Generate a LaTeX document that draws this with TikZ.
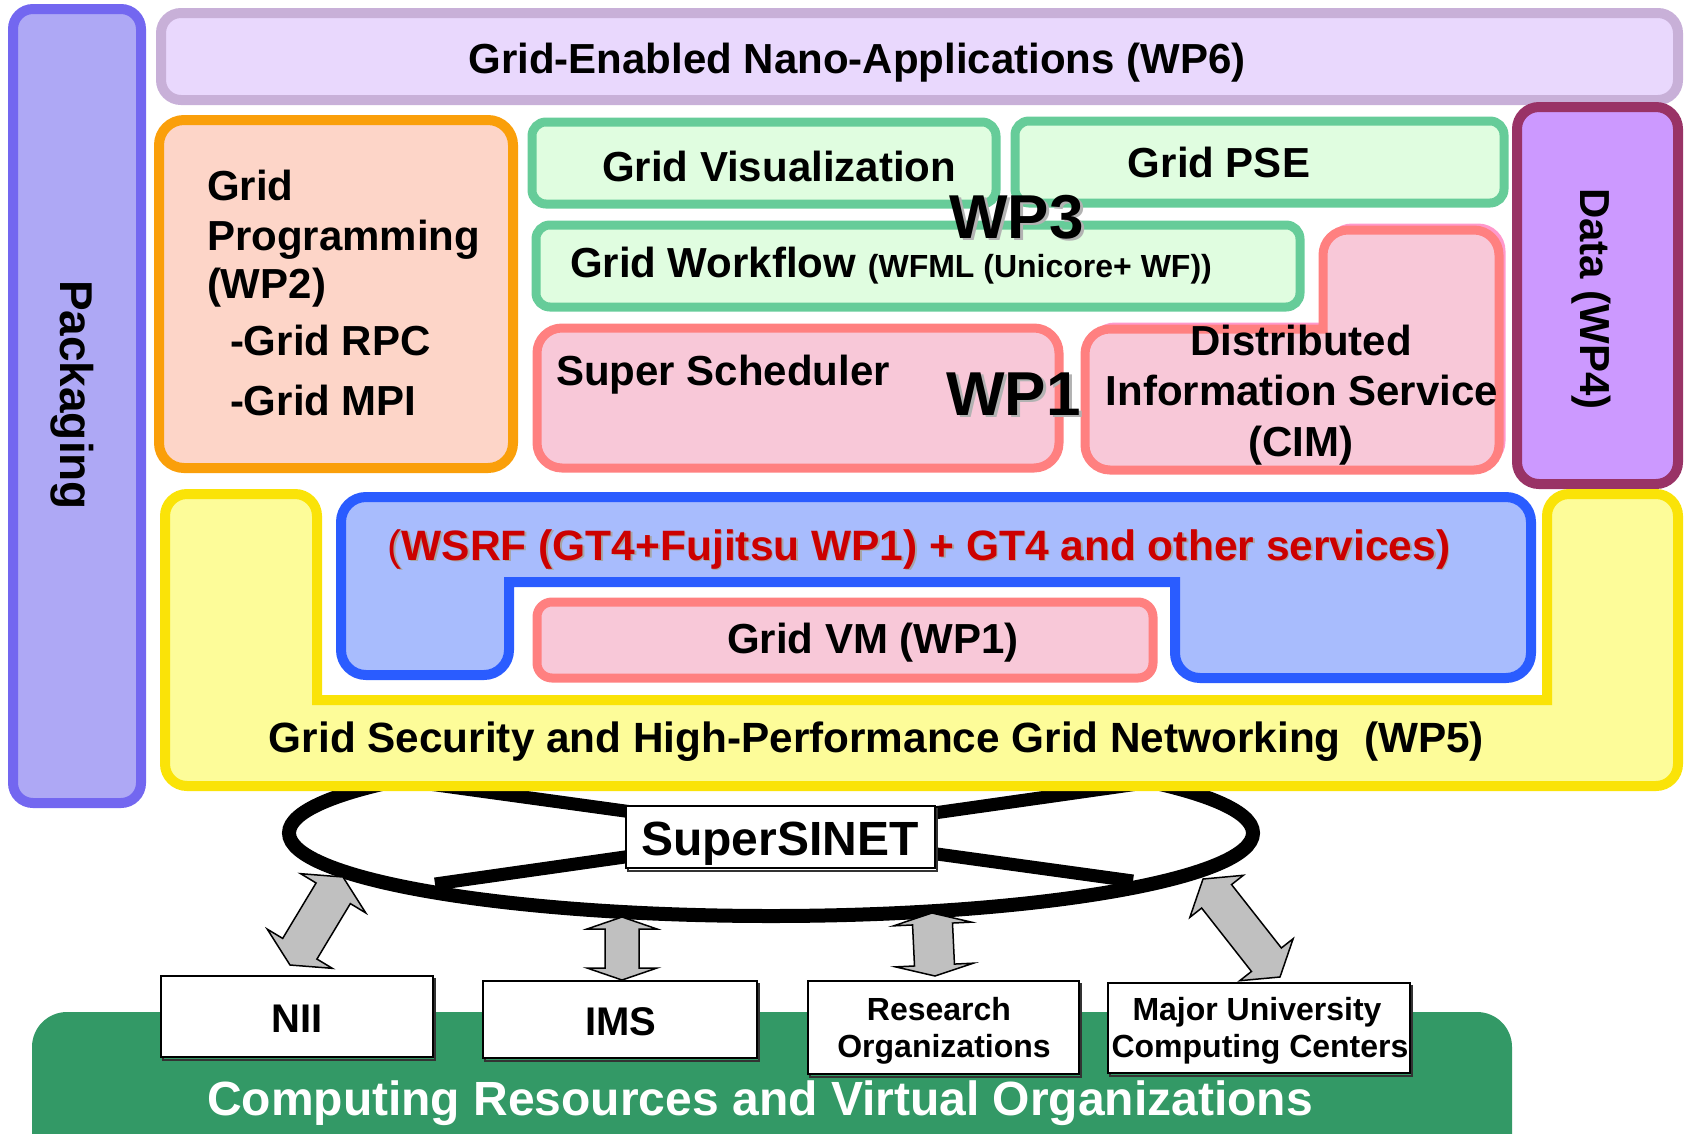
\documentclass[tikz,border=0pt]{standalone}
\usepackage{fontspec}
\setmainfont{Liberation Sans}
\usetikzlibrary{calc}
\definecolor{pkgB}{HTML}{7367F0}
\definecolor{pkgF}{HTML}{AEA8F5}
\definecolor{appB}{HTML}{C8B0D8}
\definecolor{appF}{HTML}{E9D8FD}
\definecolor{orgB}{HTML}{FA9F0A}
\definecolor{orgF}{HTML}{FDD5C8}
\definecolor{grnB}{HTML}{66CC99}
\definecolor{grnF}{HTML}{E0FDE0}
\definecolor{pnkB}{HTML}{FF8080}
\definecolor{pnkC}{HTML}{FF99CC}
\definecolor{pnkF}{HTML}{F8C8D8}
\definecolor{datB}{HTML}{993366}
\definecolor{datF}{HTML}{CC99FF}
\definecolor{ylwB}{HTML}{FAE308}
\definecolor{ylwF}{HTML}{FDFC99}
\definecolor{bluB}{HTML}{2A5CFF}
\definecolor{bluF}{HTML}{A8BCFD}
\definecolor{redT}{HTML}{CC0000}
\definecolor{resG}{HTML}{339966}
\definecolor{arrG}{HTML}{C0C0C0}
\newcommand\fsz[1]{\fontsize{#1}{#1}\selectfont\bfseries}
\newcommand\gridarrow[5]{%
  \draw[barrow] (#1)
   -- ($(#1)!#3!(#2)!#4!90:(#2)$)
   -- ($(#1)!#3!(#2)!#5!90:(#2)$)
   -- ($(#2)!#3!(#1)!#5!-90:(#1)$)
   -- ($(#2)!#3!(#1)!#4!-90:(#1)$)
   -- (#2)
   -- ($(#2)!#3!(#1)!#4!90:(#1)$)
   -- ($(#2)!#3!(#1)!#5!90:(#1)$)
   -- ($(#1)!#3!(#2)!#5!-90:(#2)$)
   -- ($(#1)!#3!(#2)!#4!-90:(#2)$)
   -- cycle;}
\begin{document}
\begin{tikzpicture}[x=1pt,y=-1pt,
  lbl/.style={inner sep=0pt, outer sep=0pt},
  panel/.style={line width=10, rounded corners=20},
  gbox/.style={line width=9, rounded corners=14, draw=grnB, fill=grnF},
  pbox/.style={line width=9, rounded corners=25, draw=pnkB, fill=pnkF},
  barrow/.style={fill=arrG, draw=black, line width=1.5, line join=miter},
  wbox/.style={draw=black, line width=2, fill=white, inner sep=0pt,
    preaction={draw=black!80, line width=2, transform canvas={shift={(1.5,2.5)}}}},
  net/.style={line width=13, draw=black}]
\useasboundingbox (0,0) rectangle (1684,1133);

% Packaging
\draw[panel, draw=pkgB, fill=pkgF] (13,9) rectangle (141,803);
\node[lbl, rotate=-90, anchor=base west] (pkgt) at (60,280) {\fsz{46}Packaging};

% WP6
\draw[panel, draw=appB, fill=appF] (161,13) rectangle (1678,100);
\node[lbl, anchor=base] (wp6t) at (857,73) {\fsz{42}Grid-Enabled Nano-Applications (WP6)};

% Grid Programming
\draw[panel, draw=orgB, fill=orgF, rounded corners=25] (159,120) rectangle (513,468);
\node[lbl, anchor=base west] (gp1) at (207,200) {\fsz{42}Grid};
\node[lbl, anchor=base west] (gp2) at (207,250) {\fsz{42}Programming};
\node[lbl, anchor=base west] (gp3) at (207,298) {\fsz{42}(WP2)};
\node[lbl, anchor=base west] (gp4) at (230,355) {\fsz{42}-Grid RPC};
\node[lbl, anchor=base west] (gp5) at (230,415) {\fsz{42}-Grid MPI};

% WP3 boxes
\draw[gbox] (532,122) rectangle (996,204);
\node[lbl, anchor=base] (visT) at (779,181) {\fsz{42}Grid Visualization};
\draw[gbox] (1015,121) rectangle (1504,203);
\node[lbl, anchor=base] (pseT) at (1219,177) {\fsz{42}Grid PSE};
\draw[gbox] (536,225) rectangle (1300,307);
\node[lbl, anchor=base west] (wfT) at (570,277) {\fsz{42}Grid Workflow \fsz{32}(WFML (Unicore+ WF))};

% WP1 boxes
\draw[pbox] (537,328) rectangle (1059,468);
\node[lbl, anchor=base west] (ssT) at (556,385) {\fsz{42}Super Scheduler};
\draw[pbox, draw=pnkC, line width=5] (1205,325) -- (1090,325) -- (1090,466) -- (1503,466) -- (1503,226) -- (1327,226) [sharp corners] -- (1327,325) -- cycle;
\draw[pbox] (1200,329) -- (1085,329) -- (1085,470) -- (1499,470) -- (1499,230) -- (1323,230) [sharp corners] -- (1323,329) -- cycle;
\node[lbl, anchor=base] (dis1) at (1301,355) {\fsz{42}Distributed};
\node[lbl, anchor=base] (dis2) at (1302,405) {\fsz{42}Information Service};
\node[lbl, anchor=base] (dis3) at (1301,456) {\fsz{42}(CIM)};

% Data
\draw[panel, draw=datB, fill=datF, rounded corners=22] (1517,107) rectangle (1678,484);
\node[lbl, rotate=-90, anchor=base west] (datT) at (1580,188) {\fsz{42}Data (WP4)};

% SuperSINET ring (behind the WP5 panel)
\coordinate (l1a) at (435,884);
\coordinate (l1b) at (1180,778);
\coordinate (l2a) at (400,780);
\coordinate (l2b) at (1133,881);
\draw[line width=14] (771,833) ellipse [x radius=482, y radius=83];
\draw[net] (l1a) -- (l1b);
\draw[net] (l2a) -- (l2b);

% WP5 yellow U
\draw[line width=10, draw=ylwB, fill=ylwF] (900,700) -- (317,700) [rounded corners=22] -- (317,494) -- (165,494) -- (165,786) -- (1678,786) -- (1678,494) -- (1547,494) [sharp corners] -- (1547,700) -- cycle;
\node[lbl, anchor=base] (wp5T) at (876.5,752) {\fsz{42.3}Grid Security and High-Performance Grid Networking\ \ (WP5)};

% WSRF blue
\draw[line width=10, draw=bluB, fill=bluF] (800,582) -- (509,582) [rounded corners=25] -- (509,675) -- (341,675) -- (341,497) -- (1531,497) -- (1531,678) -- (1175,678) [sharp corners] -- (1175,582) -- cycle;
\node[lbl, anchor=base, text=gray!70] (wsrfS) at (920.5,561.5) {\fsz{42.5}{\mdseries(}WSRF (GT4+Fujitsu WP1) + GT4 and other services)};
\node[lbl, anchor=base, text=redT] (wsrfT) at (919,560) {\fsz{42.5}{\mdseries(}WSRF (GT4+Fujitsu WP1) + GT4 and other services)};

% Grid VM
\draw[pbox, rounded corners=15] (537,602) rectangle (1153,678);
\node[lbl, anchor=base] (vmT) at (873,653) {\fsz{42}Grid VM (WP1)};

% WP labels
\node[lbl, anchor=base, text=gray!60] (wp3S) at (1019.5,240.5) {\fsz{62}WP3};
\node[lbl, anchor=base] (wp3T) at (1016.5,238) {\fsz{62}WP3};
\node[lbl, anchor=base, text=gray!60] (wp1S) at (1016.5,417.5) {\fsz{62}WP1};
\node[lbl, anchor=base] (wp1T) at (1013.5,415) {\fsz{62}WP1};

% SuperSINET label box
\node[wbox, minimum width=309, minimum height=62] (sinet) at (780.5,837) {};
\node[lbl, anchor=base] (sinetT) at (780,855) {\fsz{48}SuperSINET};

% Computing resources
\fill[resG, rounded corners=35] (32,1012) rectangle (1512,1180);
\node[lbl, anchor=base, text=white] (crT) at (760,1115) {\fsz{48}Computing Resources and Virtual Organizations};

\node[wbox, minimum width=272, minimum height=81] (nii) at (297,1016.5) {};
\node[lbl, anchor=base] (niiT) at (297,1032) {\fsz{40}NII};
\node[wbox, minimum width=274, minimum height=77] (ims) at (620,1019.5) {};
\node[lbl, anchor=base] (imsT) at (621,1035) {\fsz{40}IMS};
\node[wbox, minimum width=271, minimum height=93] (res) at (943.5,1027.5) {};
\node[lbl, anchor=base] (res1) at (939,1020) {\fsz{32}Research};
\node[lbl, anchor=base] (res2) at (944,1057) {\fsz{32}Organizations};
\node[wbox, minimum width=302, minimum height=90] (maj) at (1259,1028) {};
\node[lbl, anchor=base] (maj1) at (1257,1020) {\fsz{32}Major University};
\node[lbl, anchor=base] (maj2) at (1260,1057) {\fsz{32}Computing Centers};

% block arrows
\coordinate (a1t) at (343,877);
\coordinate (a1b) at (290,965);
\coordinate (a2t) at (622,917);
\coordinate (a2b) at (622,980);
\coordinate (a3t) at (932,913);
\coordinate (a3b) at (935,976);
\coordinate (a4t) at (1203,879);
\coordinate (a4b) at (1280,977);
\gridarrow{a1t}{a1b}{19pt}{38pt}{20pt}
\gridarrow{a2t}{a2b}{12pt}{35pt}{17pt}
\gridarrow{a3t}{a3b}{11pt}{39pt}{20pt}
\gridarrow{a4t}{a4b}{22pt}{34pt}{19pt}
\end{tikzpicture}
\end{document}
